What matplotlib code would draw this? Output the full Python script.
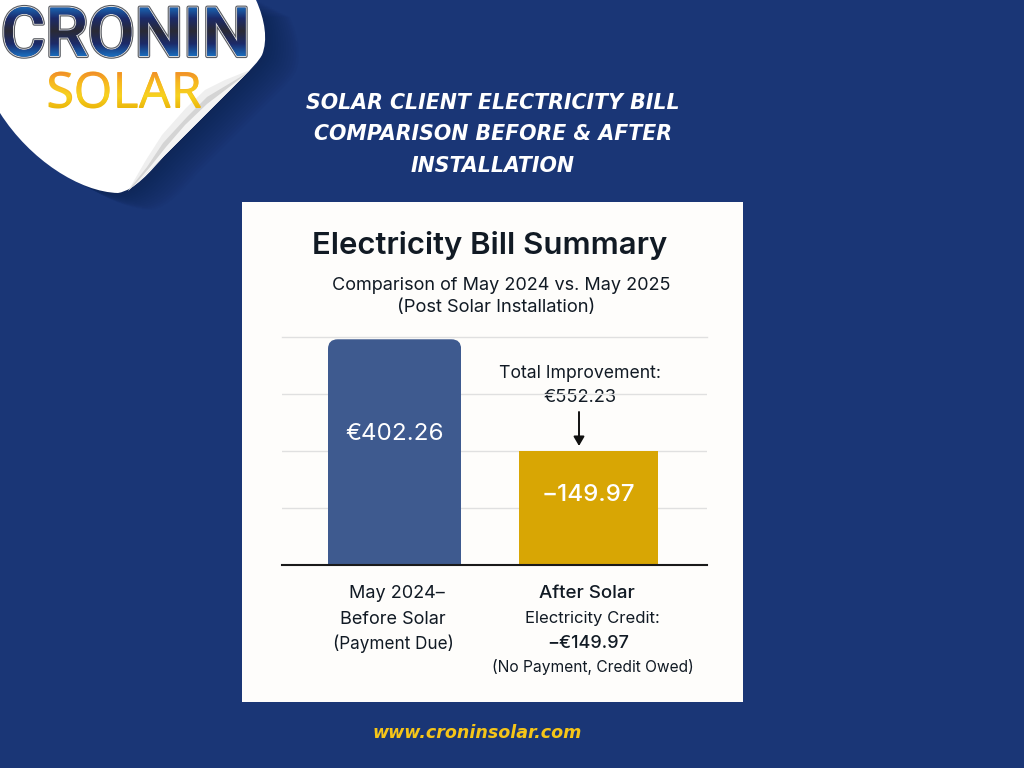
import numpy as np
import matplotlib
matplotlib.use('Agg')
import matplotlib.pyplot as plt
import matplotlib.patheffects as pe
from matplotlib.colors import LinearSegmentedColormap
from matplotlib.font_manager import FontProperties
from matplotlib.patches import PathPatch, Rectangle, FancyBboxPatch
from matplotlib.path import Path
from matplotlib.textpath import TextPath
from matplotlib.transforms import Affine2D

plt.rcParams['font.family'] = ['Inter', 'Noto Sans', 'DejaVu Sans']

# values as printed, and bar heights as drawn (the bars are not to scale)
categories = ['May 2024', 'After Solar']
bill_values = [402.26, -149.97]
bar_heights = [396, 200]
grid_ticks = [0, 100, 200, 300, 400]
improvement = 552.23

bg = '#1a3676'
W, H = 1024, 768
fig = plt.figure(figsize=(W/100, H/100), dpi=100, facecolor=bg)

# page layer, in pixels
page = fig.add_axes([0, 0, 1, 1], zorder=0)
page.set_xlim(0, W)
page.set_ylim(H, 0)
page.axis('off')
page.add_patch(Rectangle((242, 202), 501, 500, fc='#fefdfb', ec='none'))

# logo sticker with curled corner
logo_path = Path(
    [(0, 0), (256, 0), (265, 20), (268, 40), (262, 55), (258, 62), (252, 68), (245, 75),
     (165, 155), (150, 172), (135, 190), (118, 193), (80, 192), (30, 160), (0, 113), (0, 0)],
    [Path.MOVETO, Path.LINETO, Path.CURVE4, Path.CURVE4, Path.CURVE4, Path.CURVE4, Path.CURVE4, Path.CURVE4,
     Path.LINETO, Path.CURVE4, Path.CURVE4, Path.CURVE4, Path.CURVE4, Path.CURVE4, Path.CURVE4, Path.CLOSEPOLY])
for i in range(13, 0, -1):
    shift = Affine2D().translate(i*2.6, i*1.3)
    page.add_patch(PathPatch(logo_path, fc='#0f1f48', ec='none', alpha=0.05,
                             transform=shift + page.transData))
page.add_patch(PathPatch(logo_path, fc='white', ec='none'))
# fold shading
page.fill([250, 225, 205, 186, 162, 146, 128, 143, 167, 207, 248],
          [70, 80, 90, 108, 135, 160, 191, 177, 153, 113, 72], color='#efefef', lw=0)
page.fill([247, 207, 187, 163, 147, 128, 143, 167, 207, 248],
          [73, 97, 117, 143, 167, 191, 177, 153, 113, 72], color='#d4d4d4', lw=0)
page.fill([245, 207, 185, 166, 150, 133, 143, 167, 207, 248],
          [75, 104, 125, 147, 167, 187, 177, 153, 113, 72], color='#f4f4f4', lw=0)

def gradient_text(s, x, y, px, family, weight, stops, y0, y1, strokes):
    page.text(x, y, s, fontsize=px*0.72, family=family, weight=weight, color=stops[1],
              ha='left', va='baseline',
              path_effects=[pe.withStroke(linewidth=w, foreground=c) for w, c in strokes])
    tp = TextPath((0, 0), s, size=px, prop=FontProperties(family=family, weight=weight))
    cmap = LinearSegmentedColormap.from_list('grad', stops)
    im = page.imshow(np.linspace(0, 1, 64).reshape(-1, 1), cmap=cmap, aspect='auto',
                     extent=(x-5, x+320, y1, y0), origin='upper', zorder=3)
    im.set_clip_path(PathPatch(tp, transform=Affine2D().scale(1, -1).translate(x, y) + page.transData))

gradient_text('CRONIN', 1, 56, 68, 'Roboto', 'medium',
              ['#1a70c0', '#1c2a6a', '#2a2a35', '#1c2a6a', '#1a70c0'], 5, 57,
              [(3, '#55585f'), (1.5, '#d8d8d8')])
gradient_text('SOLAR', 46, 108, 50, 'Noto Sans', 'medium',
              ['#ef7d2e', '#f6b81f', '#f7d21f', '#eab308'], 68, 110, [])
page.set_xlim(0, W)
page.set_ylim(H, 0)

# heading and footer
heading = ['SOLAR CLIENT ELECTRICITY BILL', 'COMPARISON BEFORE & AFTER', 'INSTALLATION']
for line, yy in zip(heading, [103, 134, 166]):
    page.text(493, yy, line, color='white', fontsize=14.8, family='DejaVu Sans', weight='bold',
              style='oblique', ha='center', va='center')
page.text(477, 733, 'www.croninsolar.com', color='#f5c518', fontsize=12.6, family='DejaVu Sans',
          weight='bold', style='oblique', ha='center', va='center')

# chart titles
dark = '#111a24'
page.text(490, 246, 'Electricity Bill Summary', color=dark, fontsize=22.4, weight='semibold',
          ha='center', va='center')
page.text(501, 285, 'Comparison of May 2024 vs. May 2025', color=dark, fontsize=13, ha='center', va='center')
page.text(496, 308, '(Post Solar Installation)', color=dark, fontsize=13.2, ha='center', va='center')

# chart
ax = fig.add_axes([282/W, 1-565/H, 425/W, 228/H], zorder=1)
ax.patch.set_alpha(0)
ax.set_xlim(-0.58, 1.61)
ax.set_ylim(0, 400)
for s in ax.spines.values():
    s.set_visible(False)
ax.spines['bottom'].set_visible(True)
ax.spines['bottom'].set_linewidth(1.5)
ax.spines['bottom'].set_color('#1a1a1a')
ax.set_yticks(grid_ticks)
ax.tick_params(left=False, bottom=False, labelleft=False, labelbottom=False)
ax.set_xticks([])
ax.grid(axis='y', color='#e0e0e0', lw=1)
ax.set_axisbelow(True)
ax.get_ygridlines()[-1].set_clip_on(False)

bars = ax.bar([0, 1], bar_heights, width=[0.686, 0.716], color=['#3e5a8f', '#d8a604'], zorder=2)
# rounded top corners on the first bar only
clip = FancyBboxPatch((-0.343, -80), 0.686, bar_heights[0]+80,
                      boxstyle='round,pad=0,rounding_size=0.05',
                      mutation_aspect=(400/228)/(2.19/425), transform=ax.transData, fc='none', ec='none')
ax.add_patch(clip)
bars[0].set_clip_path(clip)

ax.text(0, 229, f'€{bill_values[0]:.2f}', color='white', fontsize=17.4, ha='center', va='center', zorder=3)
ax.text(1, 123, f'−{abs(bill_values[1]):.2f}', color='white', fontsize=17.4, weight='medium', ha='center', va='center', zorder=3)

page.text(580, 373, 'Total Improvement:', color=dark, fontsize=12.7, ha='center', va='center')
page.text(580, 398, f'€{improvement:.2f}', color=dark, fontsize=13.2, ha='center', va='center')
page.annotate('', xy=(579, 446), xytext=(579, 412),
              arrowprops=dict(arrowstyle='-|>,head_width=0.32,head_length=0.55', color='#111111', lw=1.4,
                              shrinkA=0, shrinkB=0))

# labels under the bars
page.text(397, 593, categories[0] + '–', color=dark, fontsize=13, ha='center', va='center')
page.text(393, 619, 'Before Solar', color=dark, fontsize=13, ha='center', va='center')
page.text(393, 644, '(Payment Due)', color=dark, fontsize=12.3, ha='center', va='center')
page.text(587, 593, categories[1], color=dark, fontsize=13.5, weight='medium', ha='center', va='center')
page.text(592, 618, 'Electricity Credit:', color=dark, fontsize=12, ha='center', va='center')
page.text(588, 643, f'−€{abs(bill_values[1]):.2f}', color=dark, fontsize=13, weight='medium', ha='center', va='center')
page.text(593, 667, '(No Payment, Credit Owed)', color=dark, fontsize=11.2, ha='center', va='center')

fig.savefig('out.png', dpi=100, facecolor=bg)
